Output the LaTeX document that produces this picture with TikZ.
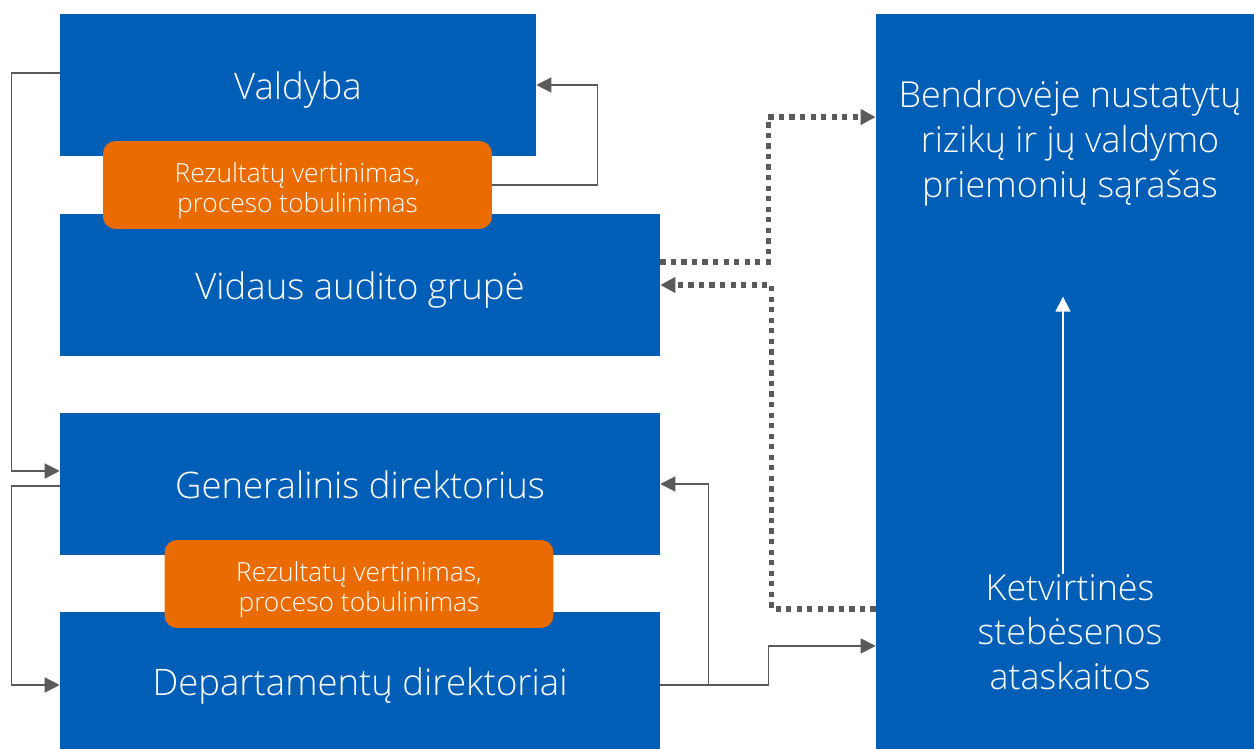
\documentclass[tikz,border=0pt]{standalone}
\usepackage{fontspec}
\setmainfont{Open Sans}[UprightFont=* Light]
\usetikzlibrary{arrows.meta}
\definecolor{boxblue}{RGB}{0,94,182}
\definecolor{boxorange}{RGB}{234,108,0}
\definecolor{linegray}{RGB}{90,90,90}

\begin{document}
\begin{tikzpicture}[x=0.02cm,y=-0.02cm,
    bluebox/.style={fill=boxblue,text=white,inner sep=0pt,text height=16.6pt,text depth=0pt,
        font=\fontsize{20.8}{25}\selectfont},
    orangebox/.style={fill=boxorange,text=white,rounded corners=0.25cm,minimum width=7.78cm,
        minimum height=1.76cm,align=center,text height=31.8pt,text depth=0pt,
        font=\fontsize{15}{17.6}\selectfont},
    whitetext/.style={text=white,inner sep=0pt,align=center,font=\fontsize{20.4}{25.5}\selectfont},
    conn/.style={linegray,line width=0.8pt,-{Triangle[length=0.3cm,width=0.3cm]}},
    dots/.style={linegray,line width=3pt,dash pattern=on 3pt off 3pt,-{Triangle[length=0.3cm,width=0.3cm]}}]
\useasboundingbox (0,0) rectangle (1254,749);
% left column
\node[bluebox,minimum width=9.52cm,minimum height=2.84cm] (valdyba) at (298,85) {Valdyba};
\node[bluebox,minimum width=12cm,minimum height=2.84cm] (vidaus) at (360,285) {Vidaus audito grupė};
\node[orangebox] (rez1) at (297.5,185) {Rezultatų vertinimas,\\proceso tobulinimas};
\node[bluebox,minimum width=12cm,minimum height=2.84cm] (gen) at (360,484) {Generalinis direktorius};
\node[bluebox,minimum width=12cm,minimum height=2.74cm] (dep) at (360,680.5) {Departamentų direktoriai};
\node[orangebox] (rez2) at (359,584) {Rezultatų vertinimas,\\proceso tobulinimas};
% right column
\node[bluebox,minimum width=7.56cm,minimum height=14.7cm] (risk) at (1065,381.5) {};
\node[whitetext] (bendr) at (1070,143) {Bendrovėje nustatytų\\rizikų ir jų valdymo\\priemonių sąrašas};
\node[whitetext] (ketv) at (1070,632) {Ketvirtinės\\stebėsenos\\ataskaitos};
\draw[white,line width=0.8pt,-{Triangle[length=0.3cm,width=0.3cm]}] ([xshift=-0.14cm]ketv.north) -- ++(0,-277);

\draw[conn] ([yshift=0.24cm]valdyba.west) -- ++(-48,0) |- ([yshift=0.26cm]gen.west);
\draw[conn] ([yshift=-0.04cm]gen.west) -- ++(-48,0) |- ([yshift=-0.09cm]dep.west);
\draw[conn] (rez1.east) -- ++(105,0) |- (valdyba.east);
\draw[conn] ([yshift=-0.09cm]dep.east) -- ++(48,0) |- (gen.east);
\draw[conn] ([yshift=-0.09cm]dep.east) -- ++(108,0) |- ([yshift=-5.29cm]risk.west);
\draw[dots] ([yshift=0.46cm]vidaus.east) -- ++(108,0) |- ([yshift=5.29cm]risk.west);
\draw[dots] ([yshift=-4.55cm]risk.west) -- ++(-104,0) |- (vidaus.east);
\end{tikzpicture}
\end{document}
